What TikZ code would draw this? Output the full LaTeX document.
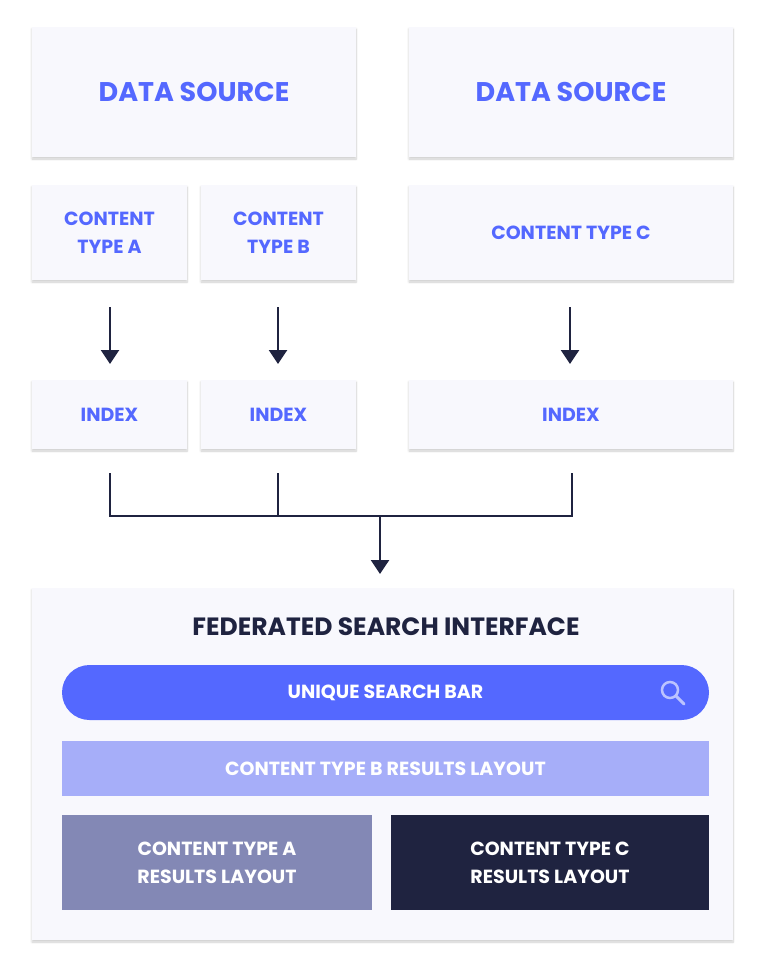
\documentclass[tikz,border=0pt]{standalone}
\usepackage{fontspec}
\setmainfont{Poppins}
\usetikzlibrary{arrows.meta,shadows.blur}
\definecolor{blu}{HTML}{5468FF}
\definecolor{dk}{HTML}{1F2340}
\definecolor{lb}{HTML}{A6AEF9}
\definecolor{gb}{HTML}{8388B5}
\definecolor{bxc}{HTML}{F8F8FD}
\tikzset{
 card/.style={fill=bxc,blur shadow={shadow blur steps=8,shadow xshift=0pt,shadow yshift=-2pt,shadow opacity=20},draw=none,inner sep=0pt,align=center,text=blu,font=\bfseries},
 conn/.style={draw=dk,line width=2.5pt},
 arr/.style={conn,-{Triangle[length=14pt,width=18pt]}},
 t18/.style={text=blu,align=center,font=\bfseries\fontsize{19}{28}\selectfont},
}
\newcommand{\mybox}[5]{\node[card,minimum width=#3-#2,minimum height=#5-#4] (#1) at ({(#2+#3)/2},{-(#4+#5)/2}) {};}
\begin{document}
\begin{tikzpicture}[x=1pt,y=1pt]
\useasboundingbox (0,0) rectangle (768,-974);
\mybox{ds1}{32}{356}{27}{157}
\mybox{ds2}{409}{733}{27}{157}
\node[text=blu,font=\bfseries\fontsize{27}{30}\selectfont] at (ds1) {DATA SOURCE};
\node[text=blu,font=\bfseries\fontsize{27}{30}\selectfont] at (ds2) {DATA SOURCE};
\mybox{ca}{32}{187}{185}{280}
\mybox{cb}{201}{356}{185}{280}
\mybox{cc}{409}{733}{185}{280}
\node[t18] at (ca) {CONTENT\\TYPE A};
\node[t18] at (cb) {CONTENT\\TYPE B};
\node[t18] at (cc) {CONTENT TYPE C};
\mybox{ia}{32}{187}{380}{449}
\mybox{ib}{201}{356}{380}{449}
\mybox{ic}{409}{733}{380}{449}
\node[t18] at (ia) {INDEX};
\node[t18] at (ib) {INDEX};
\node[t18] at (ic) {INDEX};
\coordinate (a1) at (110,-307); \coordinate (a2) at (110,-364);
\coordinate (b1) at (278,-307); \coordinate (b2) at (278,-364);
\coordinate (c1) at (570,-307); \coordinate (c2) at (570,-364);
\draw[arr] (a1) -- (a2);
\draw[arr] (b1) -- (b2);
\draw[arr] (c1) -- (c2);
\coordinate (ja) at (110,-473); \coordinate (jb) at (278,-473); \coordinate (jc) at (572,-473);
\coordinate (m) at (380,-516); \coordinate (m2) at (380,-574);
\draw[conn] (ja) |- (jc |- m) -- (jc);
\draw[conn] (jb) -- (jb |- m);
\draw[arr] (m) -- (m2);
\mybox{fed}{32}{733}{588}{940}
\node[text=dk,font=\bfseries\fontsize{25}{30}\selectfont] (ft) at (386,-627) {FEDERATED SEARCH INTERFACE};
\node[fill=blu,rounded corners=27.5pt,minimum width=647,minimum height=55,inner sep=0pt,text=white,font=\bfseries\fontsize{19}{24}\selectfont] (sb) at (385.5,-692.5) {UNIQUE SEARCH BAR};
\draw[white!60!blu,line width=2.5pt] (670,-690) circle (8);
\draw[white!60!blu,line width=3pt,line cap=round] (676,-696) -- (684,-704);
\node[fill=lb,minimum width=647,minimum height=55,inner sep=0pt,text=white,font=\bfseries\fontsize{19}{24}\selectfont] (rb) at (385.5,-768.5) {CONTENT TYPE B RESULTS LAYOUT};
\node[fill=gb,minimum width=310,minimum height=95,inner sep=0pt,align=center,text=white,font=\bfseries\fontsize{19}{28}\selectfont] (ra) at (217,-862.5) {CONTENT TYPE A\\RESULTS LAYOUT};
\node[fill=dk,minimum width=318,minimum height=95,inner sep=0pt,align=center,text=white,font=\bfseries\fontsize{19}{28}\selectfont] (rc) at (550,-862.5) {CONTENT TYPE C\\RESULTS LAYOUT};
\end{tikzpicture}
\end{document}
